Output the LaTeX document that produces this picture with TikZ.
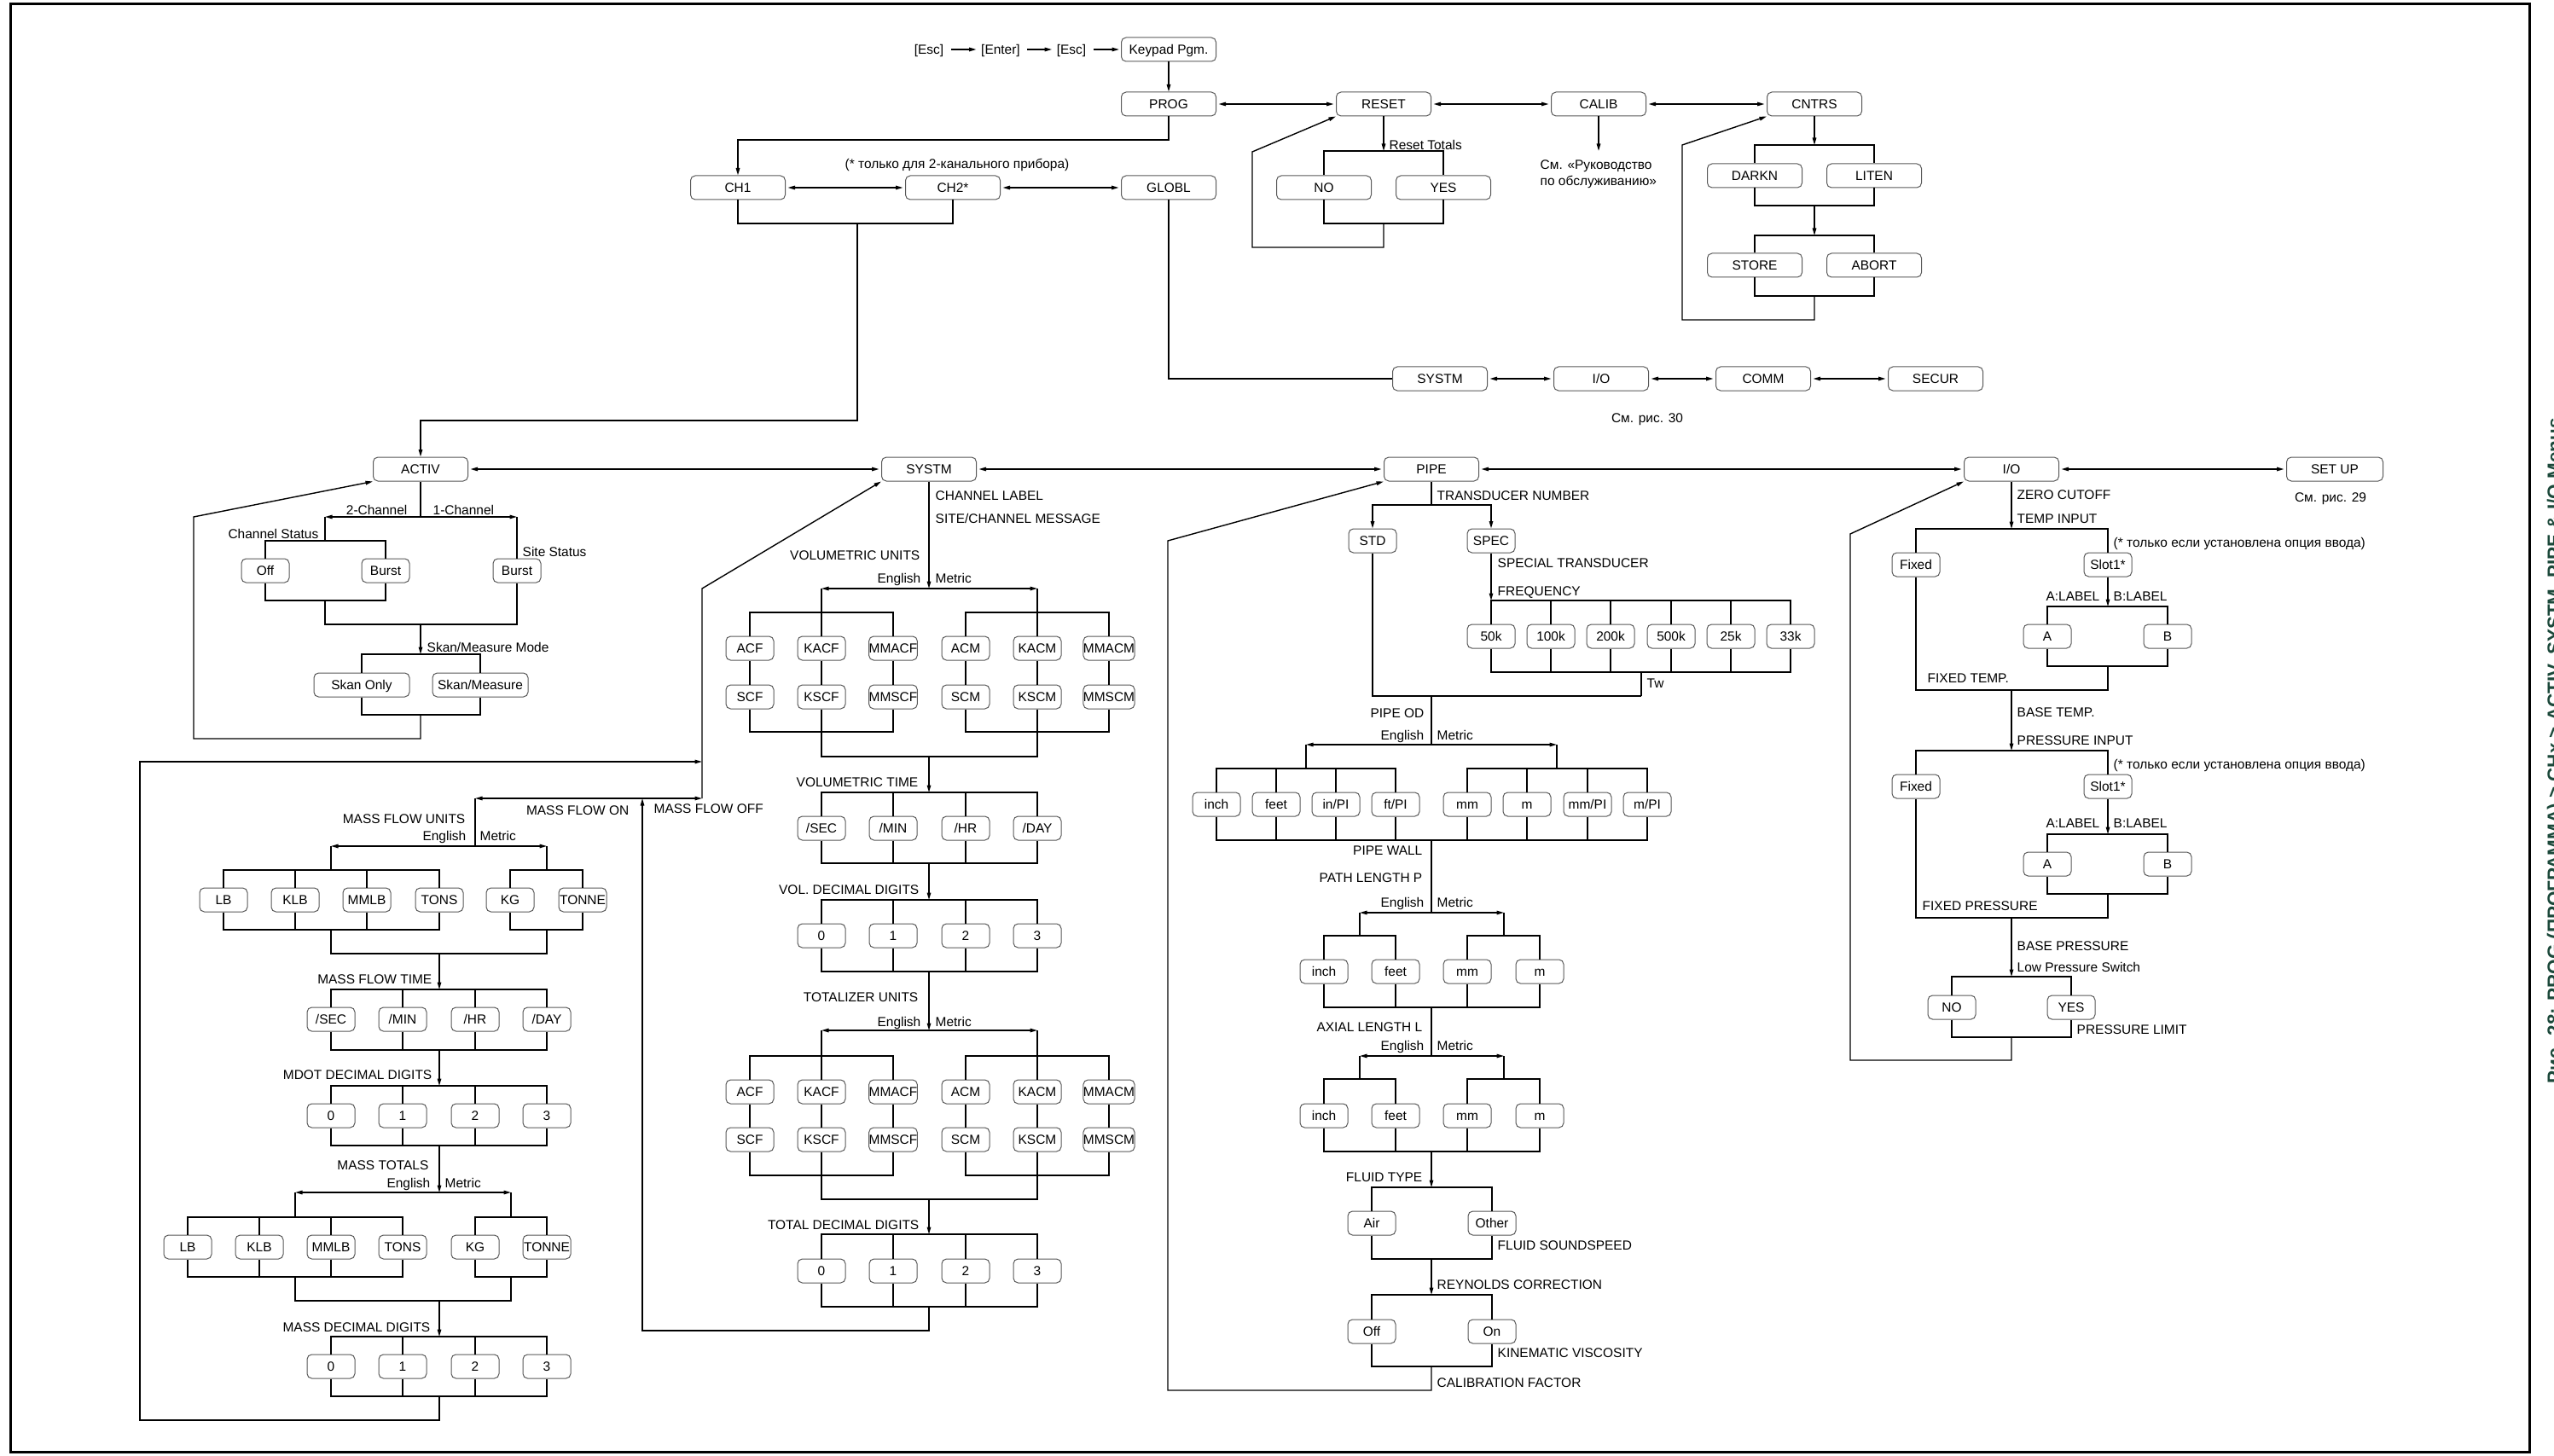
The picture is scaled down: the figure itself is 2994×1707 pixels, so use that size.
\documentclass[tikz,border=0pt]{standalone}
\usepackage{fontspec}
\setmainfont{Liberation Sans}
\usetikzlibrary{arrows.meta}
\definecolor{capgreen}{RGB}{28,72,58}

\begin{document}
\begin{tikzpicture}[
		x=0.2mm, y=-0.2mm, line width=0.28mm,
		every node/.style={font=\fontsize{8.8}{10}\selectfont, inner sep=0pt, text height=2.2mm, text depth=0pt},
		box/.style={draw=black!65, line width=0.2mm, rounded corners=1.1mm, fill=white, minimum width=22.2mm, minimum height=5.6mm},
		sbox/.style={box, minimum width=11.2mm},
		lab/.style={anchor=west},
		labl/.style={anchor=east},
		arr/.style={-{Triangle[length=1.7mm,width=0.9mm]}},
		darr/.style={{Triangle[length=1.7mm,width=0.9mm]}-{Triangle[length=1.7mm,width=0.9mm]}},
		sgap/.style={shorten <=0.5mm, shorten >=0.5mm}
	]
		\useasboundingbox (0,0) rectangle (2994,1707);
		\clip (0,0) rectangle (2994,1707);
		\draw[line width=0.6mm] (12,5) rectangle (2965,1702);
		\node[rotate=90, anchor=base west, font=\bfseries\fontsize{12.8}{14}\selectfont, text=capgreen] (caption) at (3002,1271) {Рис. 28: PROG (ПРОГРАММА) > CHx > ACTIV, SYSTM, PIPE \& I/O Menus};

		% Keypad entry
		\node (esc1) at (1089,58) {[Esc]};
		\node (enter) at (1173,58) {[Enter]};
		\node (esc2) at (1256,58) {[Esc]};
		\node[box] (keypad) at (1370,58) {Keypad Pgm.};
		\draw[arr, shorten <=1.6mm, shorten >=1mm] (esc1) -- (enter);
		\draw[arr, shorten <=1.6mm, shorten >=1mm] (enter) -- (esc2);
		\draw[arr, shorten <=1.6mm, shorten >=0.4mm] (esc2) -- (keypad);

		% Main menu
		\node[box] (prog) at (1370,122) {PROG};
		\node[box] (reset) at (1622,122) {RESET};
		\node[box] (calib) at (1874,122) {CALIB};
		\node[box] (cntrs) at (2127,122) {CNTRS};
		\draw[arr] (keypad) -- (prog);
		\draw[darr, sgap] (prog) -- (reset);
		\draw[darr, sgap] (reset) -- (calib);
		\draw[darr, sgap] (calib) -- (cntrs);

		% Reset totals
		\node[box] (rno) at (1552,220) {NO};
		\node[box] (ryes) at (1692,220) {YES};
		\node[lab] (rtot) at (1628,170) {Reset Totals};
		\coordinate (rtop) at (1622,177);
		\coordinate (rbot) at (1622,262);
		\coordinate (rloop) at (1468,290);
		\draw[arr] (reset) -- (rtop);
		\draw (rno.north) |- (rtop) -| (ryes.north);
		\draw (rno.south) |- (rbot) -| (ryes.south);
		\draw[arr] (rbot) |- (rloop) -- ++(0,-112) -- (reset.south west);

		% Calibration
		\coordinate (cal) at (1874,177);
		\draw[arr] (calib) -- (cal);
		\node[lab] (calref1) at (1805,193) {См. «Руководство};
		\node[lab] (calref2) at (1805,212) {по обслуживанию»};

		% Counters
		\node[box] (darkn) at (2057,206) {DARKN};
		\node[box] (liten) at (2197,206) {LITEN};
		\node[box] (store) at (2057,311) {STORE};
		\node[box] (abort) at (2197,311) {ABORT};
		\coordinate (ct1) at (2127,170);
		\coordinate (ct2) at (2127,241);
		\coordinate (ct3) at (2127,276);
		\coordinate (ct4) at (2127,347);
		\coordinate (cloop) at (1972,375);
		\draw[arr] (cntrs) -- (ct1);
		\draw (darkn.north) |- (ct1) -| (liten.north);
		\draw (darkn.south) |- (ct2) -| (liten.south);
		\draw[arr] (ct2) -- (ct3);
		\draw (store.north) |- (ct3) -| (abort.north);
		\draw (store.south) |- (ct4) -| (abort.south);
		\draw[arr] (ct4) |- (cloop) -- ++(0,-205) -- (cntrs.south west);

		% Channels
		\node[box] (ch1) at (865,220) {CH1};
		\node[box] (ch2) at (1117,220) {CH2*};
		\node[box] (globl) at (1370,220) {GLOBL};
		\node (note2ch) at (1122,192) {(* только для 2-канального прибора)};
		\coordinate (pc) at (1370,164);
		\coordinate (chb) at (1005,262);
		\coordinate (act0) at (1005,493);
		\draw[arr] (prog) -- (pc) -| (ch1);
		\draw[darr, sgap] (ch1) -- (ch2);
		\draw[darr, sgap] (ch2) -- (globl);
		\draw (ch1.south) |- (chb) -| (ch2.south);

		% Global menu
		\node[box] (gsystm) at (1688,444) {SYSTM};
		\node[box] (gio) at (1877,444) {I/O};
		\node[box] (comm) at (2067,444) {COMM};
		\node[box] (secur) at (2269,444) {SECUR};
		\node (ref30) at (1931,490) {См. рис. 30};
		\draw (globl) |- (gsystm);
		\draw[darr, sgap] (gsystm) -- (gio);
		\draw[darr, sgap] (gio) -- (comm);
		\draw[darr, sgap] (comm) -- (secur);

		% Channel menu row
		\node[box] (activ) at (493,550) {ACTIV};
		\node[box] (systm) at (1089,550) {SYSTM};
		\node[box] (pipe) at (1678,550) {PIPE};
		\node[box] (io) at (2358,550) {I/O};
		\node[box, minimum width=22.6mm] (setup) at (2737,550) {SET UP};
		\node (ref29) at (2732,583) {См. рис. 29};
		\draw[arr] (chb) -- (act0) -| (activ);
		\draw[darr, sgap] (activ) -- (systm);
		\draw[darr, sgap] (systm) -- (pipe);
		\draw[darr, sgap] (pipe) -- (io);
		\draw[darr, sgap] (io) -- (setup);

		% ACTIV
		\coordinate (a1) at (493,606);
		\coordinate (a1l) at (381,606);
		\coordinate (a1r) at (606,606);
		\coordinate (cs) at (381,634);
		\coordinate (csb) at (381,704);
		\coordinate (a2) at (493,732);
		\coordinate (a3) at (493,767);
		\coordinate (a4) at (493,838);
		\coordinate (aloop) at (227,866);
		\node[labl] (ch2lab) at (478,598) {2-Channel};
		\node[lab] (ch1lab) at (507,598) {1-Channel};
		\node[labl] (chstat) at (374,626) {Channel Status};
		\node[lab] (sitestat) at (612,647) {Site Status};
		\node[lab] (smm) at (500,759) {Skan/Measure Mode};
		\node[sbox] (off) at (311,669) {Off};
		\node[sbox] (burst) at (452,669) {Burst};
		\node[sbox] (sburst) at (606,669) {Burst};
		\node[box, minimum width=22.4mm] (skonly) at (424,803) {Skan Only};
		\node[box, minimum width=22.4mm] (skmeas) at (563,803) {Skan/Measure};
		\draw (activ) -- (a1);
		\draw[darr] (a1l) -- (a1r);
		\draw (a1l) -- (cs);
		\draw (off.north) |- (cs) -| (burst.north);
		\draw (off.south) |- (csb) -| (burst.south);
		\draw (a1r) -- (sburst.north);
		\draw (csb) |- (a2) -| (sburst.south);
		\draw[arr] (a2) -- (a3);
		\draw (skonly.north) |- (a3) -| (skmeas.north);
		\draw (skonly.south) |- (a4) -| (skmeas.south);
		\draw[arr] (a4) |- (aloop) -- ++(0,-260) -- (activ.south west);

		% SYSTM: volumetric units
		\coordinate (s1) at (1089,690);
		\coordinate (s1l) at (963,690);
		\coordinate (s1r) at (1216,690);
		\coordinate (vuE) at (963,718);
		\coordinate (vuM) at (1216,718);
		\coordinate (vsE) at (963,858);
		\coordinate (vsM) at (1216,858);
		\coordinate (s2) at (1089,887);
		\node[lab] (chlabel) at (1096,581) {CHANNEL LABEL};
		\node[lab] (sitemsg) at (1096,608) {SITE/CHANNEL MESSAGE};
		\node[labl] (volu) at (1079,651) {VOLUMETRIC UNITS};
		\node[labl] (eng1) at (1080,678) {English};
		\node[lab] (met1) at (1096,678) {Metric};
		\foreach \n/\x/\t in {1/879/ACF, 2/963/KACF, 3/1047/MMACF, 4/1132/ACM, 5/1216/KACM, 6/1300/MMACM}
			\node[sbox] (vu\n) at (\x,760) {\t};
		\foreach \n/\x/\t in {1/879/SCF, 2/963/KSCF, 3/1047/MMSCF, 4/1132/SCM, 5/1216/KSCM, 6/1300/MMSCM}
			\node[sbox] (vs\n) at (\x,817) {\t};
		\draw[arr] (systm) -- (s1);
		\draw[darr] (s1l) -- (s1r);
		\draw (s1l) -- (vuE);
		\draw (s1r) -- (vuM);
		\draw (vu1.north) |- (vuE) -| (vu3.north);
		\draw (vu4.north) |- (vuM) -| (vu6.north);
		\draw (vu2.north) -- (vuE);
		\draw (vu5.north) -- (vuM);
		\foreach \n in {1,...,6}
			\draw (vu\n) -- (vs\n);
		\draw (vs1.south) |- (vsE) -| (vs3.south);
		\draw (vs4.south) |- (vsM) -| (vs6.south);
		\draw (vs2.south) -- (vsE);
		\draw (vs5.south) -- (vsM);
		\draw (vsE) |- (s2) -| (vsM);

		% SYSTM: volumetric time and digits
		\coordinate (s3) at (1089,929);
		\coordinate (s4) at (1089,1012);
		\coordinate (s5) at (1089,1055);
		\coordinate (s6) at (1089,1139);
		\node[labl] (volt) at (1077,917) {VOLUMETRIC TIME};
		\node[labl] (vdd) at (1078,1043) {VOL. DECIMAL DIGITS};
		\node[sbox] (vt1) at (963,971) {/SEC};
		\node[sbox] (vt2) at (1047,971) {/MIN};
		\node[sbox] (vt3) at (1132,971) {/HR};
		\node[sbox] (vt4) at (1216,971) {/DAY};
		\foreach \n/\x in {0/963, 1/1047, 2/1132, 3/1216}
			\node[sbox] (vd\n) at (\x,1097) {\n};
		\draw[arr] (s2) -- (s3);
		\draw (vt1.north) |- (s3) -| (vt4.north);
		\draw (vt1.south) |- (s4) -| (vt4.south);
		\foreach \n in {2,3}
			\draw (vt\n.north |- s3) -- (vt\n.north) (vt\n.south) -- (vt\n.south |- s4);
		\draw[arr] (s4) -- (s5);
		\draw (vd0.north) |- (s5) -| (vd3.north);
		\draw (vd0.south) |- (s6) -| (vd3.south);
		\foreach \n in {1,2}
			\draw (vd\n.north |- s5) -- (vd\n.north) (vd\n.south) -- (vd\n.south |- s6);

		% SYSTM: totalizer
		\coordinate (s7) at (1089,1208);
		\coordinate (s7l) at (963,1208);
		\coordinate (s7r) at (1216,1208);
		\coordinate (tuE) at (963,1238);
		\coordinate (tuM) at (1216,1238);
		\coordinate (tsE) at (963,1378);
		\coordinate (tsM) at (1216,1378);
		\coordinate (s8) at (1089,1406);
		\coordinate (s9) at (1089,1447);
		\coordinate (s10) at (1089,1532);
		\node[labl] (totu) at (1077,1169) {TOTALIZER UNITS};
		\node[labl] (eng2) at (1080,1198) {English};
		\node[lab] (met2) at (1096,1198) {Metric};
		\node[labl] (tdd) at (1078,1436) {TOTAL DECIMAL DIGITS};
		\foreach \n/\x/\t in {1/879/ACF, 2/963/KACF, 3/1047/MMACF, 4/1132/ACM, 5/1216/KACM, 6/1300/MMACM}
			\node[sbox] (tu\n) at (\x,1280) {\t};
		\foreach \n/\x/\t in {1/879/SCF, 2/963/KSCF, 3/1047/MMSCF, 4/1132/SCM, 5/1216/KSCM, 6/1300/MMSCM}
			\node[sbox] (ts\n) at (\x,1336) {\t};
		\foreach \n/\x in {0/963, 1/1047, 2/1132, 3/1216}
			\node[sbox] (td\n) at (\x,1490) {\n};
		\draw[arr] (s6) -- (s7);
		\draw[darr] (s7l) -- (s7r);
		\draw (s7l) -- (tuE);
		\draw (s7r) -- (tuM);
		\draw (tu1.north) |- (tuE) -| (tu3.north);
		\draw (tu4.north) |- (tuM) -| (tu6.north);
		\draw (tu2.north) -- (tuE);
		\draw (tu5.north) -- (tuM);
		\foreach \n in {1,...,6}
			\draw (tu\n) -- (ts\n);
		\draw (ts1.south) |- (tsE) -| (ts3.south);
		\draw (ts4.south) |- (tsM) -| (ts6.south);
		\draw (ts2.south) -- (tsE);
		\draw (ts5.south) -- (tsM);
		\draw (tsE) |- (s8) -| (tsM);
		\draw[arr] (s8) -- (s9);
		\draw (td0.north) |- (s9) -| (td3.north);
		\draw (td0.south) |- (s10) -| (td3.south);
		\foreach \n in {1,2}
			\draw (td\n.north |- s9) -- (td\n.north) (td\n.south) -- (td\n.south |- s10);

		% Mass flow switch
		\coordinate (vloop) at (753,1560);
		\coordinate (mf) at (753,936);
		\coordinate (mon) at (557,936);
		\coordinate (moff) at (823,936);
		\coordinate (sd) at (823,690);
		\node[labl] (mfon) at (738,950) {MASS FLOW ON};
		\node[lab] (mfoff) at (766,948) {MASS FLOW OFF};
		\draw[arr] (s10) |- (vloop) -- (mf);
		\draw[arr] (mf) -- (mon);
		\draw[arr] (mf) -- (moff);
		\draw[arr] (moff) -- (sd) -- (systm.south west);

		% Mass flow units
		\coordinate (m1) at (557,992);
		\coordinate (m1l) at (388,992);
		\coordinate (m1r) at (641,992);
		\coordinate (muE) at (388,1020);
		\coordinate (muM) at (641,1020);
		\coordinate (muEb) at (388,1090);
		\coordinate (muMb) at (641,1090);
		\coordinate (m2) at (515,1118);
		\node[labl] (mfu) at (546,960) {MASS FLOW UNITS};
		\node[labl] (eng3) at (547,980) {English};
		\node[lab] (met3) at (562,980) {Metric};
		\foreach \n/\x/\t in {1/262/LB, 2/346/KLB, 3/430/MMLB, 4/515/TONS, 5/598/KG, 6/683/TONNE}
			\node[sbox] (mu\n) at (\x,1055) {\t};
		\draw (mon) -- (m1);
		\draw[darr] (m1l) -- (m1r);
		\draw (m1l) -- (muE);
		\draw (m1r) -- (muM);
		\draw (mu1.north) |- (muE) -| (mu4.north);
		\draw (mu1.south) |- (muEb) -| (mu4.south);
		\foreach \n in {2,3}
			\draw (mu\n.north |- muE) -- (mu\n.north) (mu\n.south) -- (mu\n.south |- muEb);
		\draw (mu5.north) |- (muM) -| (mu6.north);
		\draw (mu5.south) |- (muMb) -| (mu6.south);
		\draw (muEb) |- (m2) -| (muMb);

		% Mass flow time and digits
		\coordinate (m3) at (515,1160);
		\coordinate (m4) at (515,1231);
		\coordinate (m5) at (515,1273);
		\coordinate (m6) at (515,1343);
		\node[labl] (mft) at (507,1148) {MASS FLOW TIME};
		\node[labl] (mdot) at (507,1260) {MDOT DECIMAL DIGITS};
		\node[sbox] (mt1) at (388,1195) {/SEC};
		\node[sbox] (mt2) at (472,1195) {/MIN};
		\node[sbox] (mt3) at (557,1195) {/HR};
		\node[sbox] (mt4) at (641,1195) {/DAY};
		\foreach \n/\x in {0/388, 1/472, 2/557, 3/641}
			\node[sbox] (md\n) at (\x,1308) {\n};
		\draw[arr] (m2) -- (m3);
		\draw (mt1.north) |- (m3) -| (mt4.north);
		\draw (mt1.south) |- (m4) -| (mt4.south);
		\foreach \n in {2,3}
			\draw (mt\n.north |- m3) -- (mt\n.north) (mt\n.south) -- (mt\n.south |- m4);
		\draw[arr] (m4) -- (m5);
		\draw (md0.north) |- (m5) -| (md3.north);
		\draw (md0.south) |- (m6) -| (md3.south);
		\foreach \n in {1,2}
			\draw (md\n.north |- m5) -- (md\n.north) (md\n.south) -- (md\n.south |- m6);

		% Mass totals
		\coordinate (m7) at (515,1398);
		\coordinate (m7l) at (346,1398);
		\coordinate (m7r) at (599,1398);
		\coordinate (mxE) at (346,1427);
		\coordinate (mxM) at (599,1427);
		\coordinate (mxEb) at (346,1497);
		\coordinate (mxMb) at (599,1497);
		\coordinate (m8) at (515,1525);
		\coordinate (m9) at (515,1567);
		\coordinate (m10) at (515,1637);
		\coordinate (mloop) at (164,1665);
		\coordinate (mtop) at (164,893);
		\coordinate (mret) at (823,893);
		\node[labl] (mtot) at (503,1366) {MASS TOTALS};
		\node[labl] (eng4) at (505,1387) {English};
		\node[lab] (met4) at (521,1387) {Metric};
		\node[labl] (mdd) at (505,1556) {MASS DECIMAL DIGITS};
		\foreach \n/\x/\t in {1/220/LB, 2/304/KLB, 3/388/MMLB, 4/472/TONS, 5/557/KG, 6/641/TONNE}
			\node[sbox] (mx\n) at (\x,1462) {\t};
		\foreach \n/\x in {0/388, 1/472, 2/557, 3/641}
			\node[sbox] (mz\n) at (\x,1602) {\n};
		\draw[arr] (m6) -- (m7);
		\draw[darr] (m7l) -- (m7r);
		\draw (m7l) -- (mxE);
		\draw (m7r) -- (mxM);
		\draw (mx1.north) |- (mxE) -| (mx4.north);
		\draw (mx1.south) |- (mxEb) -| (mx4.south);
		\foreach \n in {2,3}
			\draw (mx\n.north |- mxE) -- (mx\n.north) (mx\n.south) -- (mx\n.south |- mxEb);
		\draw (mx5.north) |- (mxM) -| (mx6.north);
		\draw (mx5.south) |- (mxMb) -| (mx6.south);
		\draw (mxEb) |- (m8) -| (mxMb);
		\draw[arr] (m8) -- (m9);
		\draw (mz0.north) |- (m9) -| (mz3.north);
		\draw (mz0.south) |- (m10) -| (mz3.south);
		\foreach \n in {1,2}
			\draw (mz\n.north |- m9) -- (mz\n.north) (mz\n.south) -- (mz\n.south |- m10);
		\draw[arr] (m10) |- (mloop) -- (mtop) -- (mret);

		% PIPE: transducer
		\coordinate (p1) at (1678,592);
		\coordinate (p2) at (1748,704);
		\coordinate (p3) at (1924,788);
		\coordinate (p4) at (1924,816);
		\coordinate (p5) at (1678,816);
		\node[lab] (tnum) at (1684,581) {TRANSDUCER NUMBER};
		\node[lab] (sptr) at (1755,660) {SPECIAL TRANSDUCER};
		\node[lab] (freq) at (1755,693) {FREQUENCY};
		\node[lab] (tw) at (1930,801) {Tw};
		\node[sbox] (std) at (1609,634) {STD};
		\node[sbox] (spec) at (1748,634) {SPEC};
		\foreach \n/\x/\t in {1/1748/50k, 2/1818/100k, 3/1888/200k, 4/1959/500k, 5/2029/25k, 6/2099/33k}
			\node[sbox] (f\n) at (\x,746) {\t};
		\draw (pipe) -- (p1);
		\draw[arr] (p1) -| (std);
		\draw[arr] (p1) -| (spec);
		\draw[arr] (spec) -- (p2);
		\draw (f1.north) -- (p2) -| (f6.north);
		\draw (f1.south) |- (p3) -| (f6.south);
		\foreach \n in {2,...,5}
			\draw (f\n.north |- p2) -- (f\n.north) (f\n.south) -- (f\n.south |- p3);
		\draw (p3) -- (p4);
		\draw (std) |- (p5) -- (p4);

		% PIPE: pipe OD
		\coordinate (p6) at (1678,873);
		\coordinate (p6l) at (1531,873);
		\coordinate (p6r) at (1825,873);
		\coordinate (odE) at (1531,901);
		\coordinate (odM) at (1825,901);
		\coordinate (p7) at (1678,985);
		\node[labl] (pod) at (1670,836) {PIPE OD};
		\node[labl] (eng5) at (1670,862) {English};
		\node[lab] (met5) at (1684,862) {Metric};
		\node[sbox] (od1) at (1426,943) {inch};
		\node[sbox] (od2) at (1496,943) {feet};
		\node[sbox] (od3) at (1566,943) {in/PI};
		\node[sbox] (od4) at (1636,943) {ft/PI};
		\node[sbox] (od5) at (1720,943) {mm};
		\node[sbox] (od6) at (1790,943) {m};
		\node[sbox] (od7) at (1861,943) {mm/PI};
		\node[sbox] (od8) at (1931,943) {m/PI};
		\draw (p5) -- (p6);
		\draw[darr] (p6l) -- (p6r);
		\draw (p6l) -- (odE);
		\draw (p6r) -- (odM);
		\draw (od1.north) |- (odE) -| (od4.north);
		\draw (od5.north) |- (odM) -| (od8.north);
		\foreach \n in {2,3}
			\draw (od\n.north |- odE) -- (od\n.north);
		\foreach \n in {6,7}
			\draw (od\n.north |- odM) -- (od\n.north);
		\draw (od1.south) |- (p7) -| (od8.south);
		\foreach \n in {2,...,7}
			\draw (od\n.south) -- (od\n.south |- p7);

		% PIPE: path length and axial length
		\coordinate (p8) at (1678,1070);
		\coordinate (p8l) at (1594,1070);
		\coordinate (p8r) at (1763,1070);
		\coordinate (plE) at (1594,1097);
		\coordinate (plM) at (1763,1097);
		\coordinate (p9) at (1678,1181);
		\coordinate (p10) at (1678,1238);
		\coordinate (p10l) at (1594,1238);
		\coordinate (p10r) at (1763,1238);
		\coordinate (alE) at (1594,1265);
		\coordinate (alM) at (1763,1265);
		\coordinate (p11) at (1678,1350);
		\node[labl] (pwall) at (1668,997) {PIPE WALL};
		\node[labl] (plen) at (1668,1029) {PATH LENGTH P};
		\node[labl] (eng6) at (1670,1058) {English};
		\node[lab] (met6) at (1684,1058) {Metric};
		\node[labl] (alen) at (1668,1204) {AXIAL LENGTH L};
		\node[labl] (eng7) at (1670,1226) {English};
		\node[lab] (met7) at (1684,1226) {Metric};
		\foreach \n/\x/\t in {1/1552/inch, 2/1636/feet, 3/1720/mm, 4/1805/m} {
			\node[sbox] (pl\n) at (\x,1139) {\t};
			\node[sbox] (al\n) at (\x,1308) {\t};
		}
		\draw (p7) -- (p8);
		\draw[darr] (p8l) -- (p8r);
		\draw (p8l) -- (plE);
		\draw (p8r) -- (plM);
		\draw (pl1.north) |- (plE) -| (pl2.north);
		\draw (pl3.north) |- (plM) -| (pl4.north);
		\draw (pl1.south) |- (p9) -| (pl4.south);
		\foreach \n in {2,3}
			\draw (pl\n.south) -- (pl\n.south |- p9);
		\draw (p9) -- (p10);
		\draw[darr] (p10l) -- (p10r);
		\draw (p10l) -- (alE);
		\draw (p10r) -- (alM);
		\draw (al1.north) |- (alE) -| (al2.north);
		\draw (al3.north) |- (alM) -| (al4.north);
		\draw (al1.south) |- (p11) -| (al4.south);
		\foreach \n in {2,3}
			\draw (al\n.south) -- (al\n.south |- p11);

		% PIPE: fluid and Reynolds
		\coordinate (p12) at (1678,1392);
		\coordinate (p13) at (1678,1476);
		\coordinate (p14) at (1678,1518);
		\coordinate (p15) at (1678,1602);
		\coordinate (ploop) at (1369,1630);
		\node[labl] (ftype) at (1668,1380) {FLUID TYPE};
		\node[lab] (fss) at (1755,1460) {FLUID SOUNDSPEED};
		\node[lab] (rcor) at (1684,1506) {REYNOLDS CORRECTION};
		\node[lab] (kvis) at (1755,1586) {KINEMATIC VISCOSITY};
		\node[lab] (calf) at (1684,1621) {CALIBRATION FACTOR};
		\node[sbox] (air) at (1608,1434) {Air};
		\node[sbox] (other) at (1749,1434) {Other};
		\node[sbox] (roff) at (1608,1561) {Off};
		\node[sbox] (ron) at (1749,1561) {On};
		\draw[arr] (p11) -- (p12);
		\draw (air.north) |- (p12) -| (other.north);
		\draw (air.south) |- (p13) -| (other.south);
		\draw[arr] (p13) -- (p14);
		\draw (roff.north) |- (p14) -| (ron.north);
		\draw (roff.south) |- (p15) -| (ron.south);
		\draw[arr] (p15) |- (ploop) -- ++(0,-996) -- (pipe.south west);

		% I/O: temperature
		\coordinate (i1) at (2358,620);
		\coordinate (i2) at (2471,711);
		\coordinate (i3) at (2471,781);
		\coordinate (i4) at (2358,809);
		\coordinate (i5) at (2358,880);
		\node[lab] (zcut) at (2364,580) {ZERO CUTOFF};
		\node[lab] (tin) at (2364,608) {TEMP INPUT};
		\node[lab] (opt1) at (2477,636) {(* только если установлена опция ввода)};
		\node[labl] (alab1) at (2462,699) {A:LABEL};
		\node[lab] (blab1) at (2477,699) {B:LABEL};
		\node[lab] (fxt) at (2259,795) {FIXED TEMP.};
		\node[lab] (btemp) at (2364,835) {BASE TEMP.};
		\node[lab] (pin) at (2364,868) {PRESSURE INPUT};
		\node[sbox] (fixed1) at (2246,662) {Fixed};
		\node[sbox] (slot1) at (2471,662) {Slot1*};
		\node[sbox] (ta) at (2400,746) {A};
		\node[sbox] (tb) at (2541,746) {B};
		\draw[arr] (io) -- (i1);
		\draw (fixed1.north) |- (i1) -| (slot1.north);
		\draw[arr] (slot1) -- (i2);
		\draw (ta.north) |- (i2) -| (tb.north);
		\draw (ta.south) |- (i3) -| (tb.south);
		\draw (fixed1.south) |- (i4) -| (i3);
		\draw[arr] (i4) -- (i5);

		% I/O: pressure
		\coordinate (i6) at (2471,978);
		\coordinate (i7) at (2471,1048);
		\coordinate (i8) at (2358,1076);
		\coordinate (i9) at (2358,1145);
		\coordinate (i10) at (2358,1216);
		\coordinate (iloop) at (2169,1243);
		\node[lab] (opt2) at (2477,896) {(* только если установлена опция ввода)};
		\node[labl] (alab2) at (2462,965) {A:LABEL};
		\node[lab] (blab2) at (2477,965) {B:LABEL};
		\node[lab] (fxp) at (2253,1062) {FIXED PRESSURE};
		\node[lab] (bpres) at (2364,1109) {BASE PRESSURE};
		\node[lab] (lps) at (2364,1134) {Low Pressure Switch};
		\node[lab] (plim) at (2434,1207) {PRESSURE LIMIT};
		\node[sbox] (fixed2) at (2246,922) {Fixed};
		\node[sbox] (slot2) at (2471,922) {Slot1*};
		\node[sbox] (pa) at (2400,1013) {A};
		\node[sbox] (pb) at (2541,1013) {B};
		\node[sbox] (lno) at (2288,1181) {NO};
		\node[sbox] (lyes) at (2428,1181) {YES};
		\draw (fixed2.north) |- (i5) -| (slot2.north);
		\draw[arr] (slot2) -- (i6);
		\draw (pa.north) |- (i6) -| (pb.north);
		\draw (pa.south) |- (i7) -| (pb.south);
		\draw (fixed2.south) |- (i8) -| (i7);
		\draw[arr] (i8) -- (i9);
		\draw (lno.north) |- (i9) -| (lyes.north);
		\draw (lno.south) |- (i10) -| (lyes.south);
		\draw[arr] (i10) |- (iloop) -- ++(0,-617) -- (io.south west);
	\end{tikzpicture}
\end{document}
